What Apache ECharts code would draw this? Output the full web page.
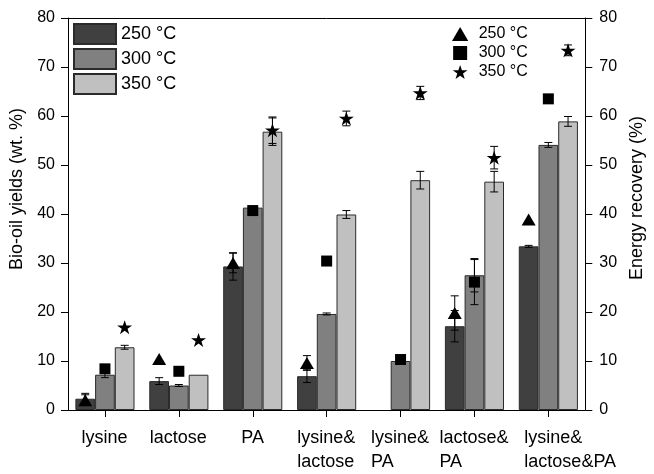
<!DOCTYPE html>
<html>
<head>
<meta charset="utf-8">
<script src="https://cdn.jsdelivr.net/npm/echarts@6/dist/echarts.min.js"></script>
<style>
html,body{margin:0;padding:0;background:#fff;}
#chart{width:654px;height:474px;}
</style>
</head>
<body>
<div id="chart"></div>
<script>
// ---- data ----
const categories = ['lysine', 'lactose', 'PA', 'lysine&\nlactose', 'lysine&\nPA', 'lactose&\nPA', 'lysine&\nlactose&PA'];
const temps = ['250 °C', '300 °C', '350 °C'];
const yieldTicks = [0, 10, 20, 30, 40, 50, 60, 70, 80];

// Bio-oil yields (wt. %)
const yield250 = [2.3, 5.9, 29.3, 6.9, null, 17.1, 33.4];
const yield300 = [7.2, 5.0, 41.3, 19.6, 10.0, 27.5, 54.1];
const yield350 = [12.8, 7.2, 56.8, 39.9, 46.9, 46.6, 58.9];
const yieldErr250 = [1.1, 0.7, 2.8, 1.3, 0, 3.2, 0.2];
const yieldErr300 = [0.6, 0.2, 0.3, 0.2, 0, 3.4, 0.5];
const yieldErr350 = [0.4, 0, 2.8, 0.8, 1.8, 2.1, 1.0];

// Energy recovery (%)
const energy250 = [2.0, 10.4, 30.0, 9.6, null, 19.8, 38.9];
const energy300 = [8.4, 7.9, 40.7, 30.4, 10.3, 26.1, 63.5];
const energy350 = [16.9, 14.3, 57.1, 59.5, 64.7, 51.5, 73.4];
const energyErr250 = [1.1, 0, 2.0, 1.5, 0, 3.5, 0];
const energyErr300 = [0, 0, 0, 0, 0, 4.6, 0];
const energyErr350 = [0, 0, 2.7, 1.5, 1.35, 2.3, 1.1];

// ---- styling ----
const FONT = '"Liberation Sans", Arial, sans-serif';
const barColors = ['#404040', '#808080', '#c0c0c0'];
const symbols = [
  'path://M50,0 L100,86 L0,86 Z',
  'path://M0,0 L100,0 L100,100 L0,100 Z',
  'path://M50,0 L61.8,35.3 L99,35.3 L69,57.1 L80.4,92.7 L50,70.6 L19.6,92.7 L31,57.1 L1,35.3 L38.2,35.3 Z'
];
const symbolSizes = [[14, 12], [11, 11], [15, 14]];
const GROUP = 0.8;          // fraction of category band occupied by bars (barCategoryGap 20%)
const LAST_LABEL_SHIFT = 44; // the last category label sits right of its tick in the reference

const yields = [yield250, yield300, yield350];
const yieldErrs = [yieldErr250, yieldErr300, yieldErr350];
const energies = [energy250, energy300, energy350];
const energyErrs = [energyErr250, energyErr300, energyErr350];

function xPos(i, k) { return i + 0.5 + (k - 1) * GROUP / 3; }

// label widths so multi-line labels are left aligned inside a centred block
const ctx = document.createElement('canvas').getContext('2d');
ctx.font = '18px ' + FONT;
const rich = {};
categories.forEach((c, i) => {
  const w = Math.max(...c.split('\n').map(l => ctx.measureText(l).width));
  const st = { width: Math.ceil(w), align: 'left', fontSize: 18, lineHeight: 24, fontFamily: FONT, color: '#000' };
  if (i === categories.length - 1) st.padding = [0, 0, 0, LAST_LABEL_SHIFT];
  rich['c' + i] = st;
});

function errData(vals, errs, k) {
  const out = [];
  vals.forEach((v, i) => {
    if (v != null && errs[i] > 0) out.push([xPos(i, k), v - errs[i], v + errs[i]]);
  });
  return out;
}

function errRender(params, api) {
  const x = api.value(0);
  const lo = api.coord([x, api.value(1)]);
  const hi = api.coord([x, api.value(2)]);
  const cap = 4;
  const st = { stroke: '#000', lineWidth: 1 };
  return {
    type: 'group',
    children: [
      { type: 'line', shape: { x1: lo[0], y1: lo[1], x2: hi[0], y2: hi[1] }, style: st },
      { type: 'line', shape: { x1: lo[0] - cap, y1: lo[1], x2: lo[0] + cap, y2: lo[1] }, style: st },
      { type: 'line', shape: { x1: hi[0] - cap, y1: hi[1], x2: hi[0] + cap, y2: hi[1] }, style: st }
    ]
  };
}

const series = [];
temps.forEach((t, k) => {
  series.push({
    name: t, type: 'bar', xAxisIndex: 0, yAxisIndex: 0,
    data: yields[k],
    barGap: '0%', barCategoryGap: '20%',
    itemStyle: { color: barColors[k], borderColor: '#2b2b2b', borderWidth: 1 },
    z: 2
  });
});
temps.forEach((t, k) => {
  series.push({
    name: 'bar-err-' + k, type: 'custom', xAxisIndex: 1, yAxisIndex: 0,
    data: errData(yields[k], yieldErrs[k], k),
    renderItem: errRender, z: 3, silent: true
  });
});
temps.forEach((t, k) => {
  series.push({
    name: 'er-err-' + k, type: 'custom', xAxisIndex: 1, yAxisIndex: 1,
    data: errData(energies[k], energyErrs[k], k),
    renderItem: errRender, z: 4, silent: true
  });
});
temps.forEach((t, k) => {
  series.push({
    name: 'ER ' + t, type: 'scatter', xAxisIndex: 1, yAxisIndex: 1,
    data: energies[k].map((v, i) => v == null ? null : [xPos(i, k), v]).filter(d => d),
    symbol: symbols[k], symbolSize: symbolSizes[k],
    itemStyle: { color: '#000', opacity: 1 },
    z: 5
  });
});

const yAxisCommon = {
  type: 'value', min: 0, max: 80, interval: 10,
  axisLine: { show: true, lineStyle: { color: '#000', width: 1 } },
  axisTick: { show: true, inside: false, length: 7, lineStyle: { color: '#000' } },
  splitLine: { show: false },
  nameLocation: 'middle', nameRotate: 90,
  nameTextStyle: { fontSize: 18, fontFamily: FONT, color: '#000' }
};

const option = {
  animation: false,
  backgroundColor: '#fff',
  grid: { left: 68, right: 61, top: 18, bottom: 58, containLabel: false },
  legend: [
    {
      data: temps, orient: 'vertical', left: 73, top: 23, padding: 0,
      itemWidth: 42, itemHeight: 20, itemGap: 3, icon: 'rect',
      textStyle: { fontSize: 18, fontFamily: FONT, color: '#000' },
      selectedMode: false
    },
    {
      data: temps.map(t => 'ER ' + t), orient: 'vertical', left: 452, top: 26, padding: 0,
      itemWidth: 27, itemHeight: 14, itemGap: 3, symbolKeepAspect: true,
      formatter: n => n.replace('ER ', ''),
      textStyle: { fontSize: 16, fontFamily: FONT, color: '#000' },
      selectedMode: false
    }
  ],
  xAxis: [
    {
      type: 'category', data: categories, position: 'bottom',
      axisLine: { show: true, lineStyle: { color: '#000', width: 1 } },
      axisTick: { show: true, alignWithLabel: true, length: 7, lineStyle: { color: '#000' } },
      axisLabel: {
        interval: 0, margin: 16, color: '#000', fontSize: 18, fontFamily: FONT, lineHeight: 24,
        formatter: (v, idx) => v.split('\n').map(l => '{c' + idx + '|' + l + '}').join('\n'),
        rich: rich
      },
      splitLine: { show: false }
    },
    {
      type: 'value', min: 0, max: categories.length, position: 'top',
      axisLine: { show: true, onZero: false, lineStyle: { color: '#000', width: 1 } },
      axisTick: { show: false }, axisLabel: { show: false }, splitLine: { show: false }
    }
  ],
  yAxis: [
    Object.assign({}, yAxisCommon, {
      position: 'left', name: 'Bio-oil yields (wt. %)', nameGap: 40,
      nameTextStyle: Object.assign({}, yAxisCommon.nameTextStyle, { padding: [0, 0, 0, 50] }),
      axisLabel: { margin: 13, fontSize: 16, fontFamily: FONT, color: '#000',
        formatter: v => yieldTicks.includes(v) ? String(v) : '' }
    }),
    Object.assign({}, yAxisCommon, {
      position: 'right', name: 'Energy recovery (%)', nameGap: 41,
      nameTextStyle: Object.assign({}, yAxisCommon.nameTextStyle, { padding: [0, 0, 0, 32] }),
      axisLabel: { margin: 14, fontSize: 16, fontFamily: FONT, color: '#000',
        formatter: v => yieldTicks.includes(v) ? String(v) : '' }
    })
  ],
  series: series
};

const chart = echarts.init(document.getElementById('chart'), null, { renderer: 'canvas' });
chart.setOption(option);
</script>
</body>
</html>
